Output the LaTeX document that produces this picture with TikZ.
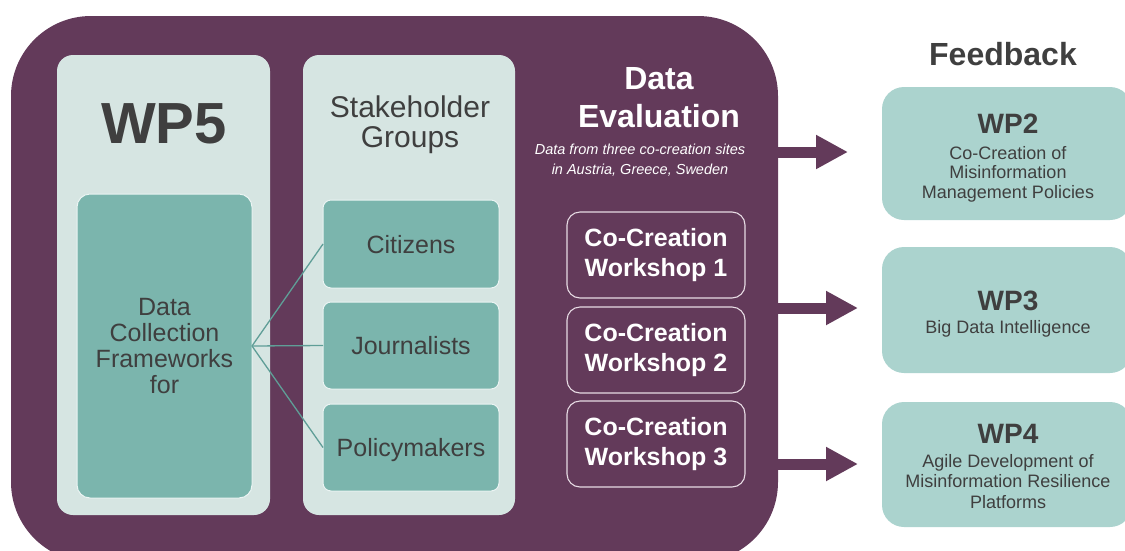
\documentclass[tikz,border=0pt]{standalone}
\usepackage{fontspec}
\setmainfont{Liberation Sans}
\usetikzlibrary{arrows.meta}
\definecolor{plum}{HTML}{633A5A}
\definecolor{panel}{HTML}{D6E5E2}
\definecolor{tealbox}{HTML}{7BB5AD}
\definecolor{fbbox}{HTML}{ABD3CE}
\definecolor{ink}{HTML}{3F3F3F}
\definecolor{fanline}{HTML}{5F9E97}
\definecolor{wsborder}{HTML}{E6DAE3}
\newcommand\fsz[2]{\fontsize{#1}{#2}\selectfont}
\begin{document}
\begin{tikzpicture}[x=1pt,y=-1pt,
  box/.style={anchor=north west, inner sep=0pt, outer sep=0pt},
  bigpanel/.style={box, fill=plum, rounded corners=80pt},
  panelbox/.style={box, fill=panel, rounded corners=16pt},
  dcbox/.style={box, fill=tealbox, draw=white!85!tealbox, line width=1pt, rounded corners=13pt,
     text=ink, align=center, font=\fsz{25}{26}},
  groupbox/.style={box, fill=tealbox, draw=white!85!tealbox, line width=1pt, rounded corners=8pt,
     minimum width=176pt, text=ink, font=\fsz{25}{26}, text height=18pt, text depth=0pt},
  wsbox/.style={box, fill=plum, draw=wsborder, line width=1.1pt, rounded corners=13pt,
     minimum width=178pt, minimum height=86pt, text=white, align=center, font=\fsz{25}{30}\bfseries},
  fbbox/.style={box, fill=fbbox, rounded corners=22pt, minimum width=250pt},
  fbtitle/.style={anchor=base, inner sep=0pt, text=ink, font=\fsz{28}{28}\bfseries},
  fbsub/.style={anchor=north, inner sep=0pt, text=ink, align=center},
  fan/.style={draw=fanline, line width=1.3pt},
  bigarrow/.style={draw=plum, line width=11pt, -{Triangle[length=32pt,width=32pt]}}
]
\useasboundingbox (0,0) rectangle (1125,550);

% main purple block
\node[bigpanel, minimum width=767pt, minimum height=546pt] (eval) at (11,16) {};

% WP5 panel
\node[panelbox, minimum width=213pt, minimum height=460pt] (wp5) at (57,55) {};
\node[anchor=base, inner sep=0pt, text=ink, font=\fsz{58}{58}\bfseries] (wp5t) at (164,143) {WP5};
\node[dcbox, minimum width=175pt, minimum height=304pt] (dc) at (77,194) {Data\\Collection\\Frameworks\\for};

% Stakeholder panel
\node[panelbox, minimum width=212pt, minimum height=460pt] (sg) at (303,55) {};
\node[anchor=north, inner sep=0pt, text=ink, align=center, font=\fsz{30}{30}] (sgt) at (410,96) {Stakeholder\\Groups};
\node[groupbox, minimum height=88pt] (cit) at (323,200) {Citizens};
\node[groupbox, minimum height=87pt] (jou) at (323,302) {Journalists};
\node[groupbox, minimum height=87pt] (pol) at (323,404) {Policymakers};

\draw[fan] (dc.east) -- (cit.west);
\draw[fan] (dc.east) -- (jou.west);
\draw[fan] (dc.east) -- (pol.west);

% Data evaluation
\node[anchor=north, inner sep=0pt, align=center, text=white, font=\fsz{32}{38}\bfseries] (evt) at (659,67) {Data\\Evaluation};
\node[anchor=north, inner sep=0pt, align=center, text=white, font=\fsz{14.5}{20}\itshape] (evs) at (640,143.5) {Data from three co-creation sites\\in Austria, Greece, Sweden};

\node[wsbox] (ws1) at (567,212) {Co-Creation\\Workshop 1};
\node[wsbox] (ws2) at (567,307) {Co-Creation\\Workshop 2};
\node[wsbox] (ws3) at (567,401) {Co-Creation\\Workshop 3};

% Feedback
\node[anchor=base, inner sep=0pt, text=ink, font=\fsz{32}{32}\bfseries] (fbt) at (1003,65) {Feedback};

\node[fbbox, minimum height=133pt] (wp2) at (882,87) {};
\node[fbtitle] (wp2t) at (1008,133) {WP2};
\node[fbsub, font=\fsz{18}{19.5}] (wp2s) at (1008,146) {Co-Creation of\\Misinformation\\Management Policies};

\node[fbbox, minimum height=126pt] (wp3) at (882,247) {};
\node[fbtitle] (wp3t) at (1008,310) {WP3};
\node[anchor=base, inner sep=0pt, text=ink, font=\fsz{18}{20}] (wp3s) at (1008,333) {Big Data Intelligence};

\node[fbbox, minimum height=125pt] (wp4) at (882,402) {};
\node[fbtitle] (wp4t) at (1008,443) {WP4};
\node[fbsub, font=\fsz{18}{20.5}] (wp4s) at (1008,454) {Agile Development of\\Misinformation Resilience\\Platforms};

% arrows
\coordinate (a1) at (848,152);
\coordinate (a2) at (858,308);
\coordinate (a3) at (858,464);
\draw[bigarrow] (eval.east |- a1) -- (a1);
\draw[bigarrow] (eval.east |- a2) -- (a2);
\draw[bigarrow] (eval.east |- a3) -- (a3);
\end{tikzpicture}
\end{document}
